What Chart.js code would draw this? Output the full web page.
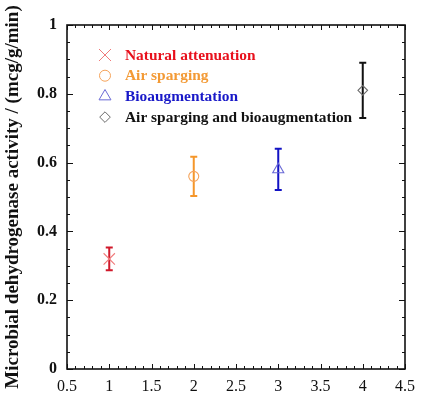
<!DOCTYPE html>
<html>
<head>
<meta charset="utf-8">
<script src="https://cdn.jsdelivr.net/npm/chart.js@4.4.0/dist/chart.umd.min.js"></script>
<style>
  html, body { margin: 0; padding: 0; background: #fff; }
</style>
</head>
<body>
<canvas id="chart" width="423" height="397"></canvas>
<script>
const treatments = ['Natural attenuation', 'Air sparging', 'Bioaugmentation', 'Air sparging and bioaugmentation'];
const treatmentX = [1, 2, 3, 4];
const activity = [0.32, 0.56, 0.58, 0.81];
const activityErr = [0.033, 0.057, 0.06, 0.08];

const markers = ['crossRot', 'circle', 'triangle', 'rectRot'];
const markerSize = [8, 5, 6.4, 4.8];
const markerColors = ['#f07a7a', '#f5a35a', '#6a6ad6', '#6a6a6a'];
const barColors = ['#d0182a', '#f5962a', '#1212c4', '#111111'];
const textColors = ['#e8101c', '#f39a35', '#1818c8', '#111111'];

const SERIF = '"Liberation Serif", "Times New Roman", serif';

// one dataset per treatment so each gets its own marker
const datasets = treatments.map((name, i) => ({
  label: name,
  data: [{ x: treatmentX[i], y: activity[i], err: activityErr[i] }],
  pointStyle: markers[i],
  pointRadius: markerSize[i],
  pointHoverRadius: markerSize[i],
  pointBorderWidth: 1.1,
  borderColor: markerColors[i],
  backgroundColor: 'rgba(0,0,0,0)',
  errColor: barColors[i],
  textColor: textColors[i]
}));

// vertical error bars with caps
const errorBars = {
  id: 'errorBars',
  beforeDatasetsDraw(chart) {
    const { ctx, scales: { x, y } } = chart;
    ctx.save();
    chart.data.datasets.forEach(ds => {
      ds.data.forEach(p => {
        const px = x.getPixelForValue(p.x);
        const top = y.getPixelForValue(p.y + p.err);
        const bot = y.getPixelForValue(p.y - p.err);
        ctx.strokeStyle = ds.errColor;
        ctx.lineWidth = 2;
        ctx.beginPath();
        ctx.moveTo(px, top); ctx.lineTo(px, bot);
        ctx.moveTo(px - 3.5, top); ctx.lineTo(px + 3.5, top);
        ctx.moveTo(px - 3.5, bot); ctx.lineTo(px + 3.5, bot);
        ctx.stroke();
      });
    });
    ctx.restore();
  }
};

// closed frame with inward major/minor ticks on all sides
const frame = {
  id: 'frame',
  afterDraw(chart) {
    const { ctx, chartArea: a, scales: { x, y } } = chart;
    ctx.save();
    ctx.strokeStyle = '#111';
    ctx.lineWidth = 1;
    ctx.beginPath();
    for (let k = 5; k <= 45; k++) {
      const px = Math.round(x.getPixelForValue(k / 10)) + 0.5;
      const len = k % 5 === 0 ? 5 : 3;
      ctx.moveTo(px, a.bottom); ctx.lineTo(px, a.bottom - len);
      ctx.moveTo(px, a.top); ctx.lineTo(px, a.top + len);
    }
    for (let k = 0; k <= 20; k++) {
      const py = Math.round(y.getPixelForValue(k / 20)) + 0.5;
      const len = k % 4 === 0 ? 6 : 3;
      ctx.moveTo(a.left, py); ctx.lineTo(a.left + len, py);
      ctx.moveTo(a.right, py); ctx.lineTo(a.right - len, py);
    }
    ctx.stroke();
    ctx.lineWidth = 1.6;
    ctx.strokeRect(a.left, a.top, a.right - a.left, a.bottom - a.top);
    ctx.restore();
  }
};

// legend inside the plot, coloured text
const innerLegend = {
  id: 'innerLegend',
  afterDraw(chart) {
    const { ctx, chartArea: a } = chart;
    ctx.save();
    chart.data.datasets.forEach((ds, i) => {
      const yy = a.top + 30 + i * 20.7;
      const mx = a.left + 38;
      ctx.strokeStyle = ds.borderColor;
      ctx.fillStyle = 'rgba(0,0,0,0)';
      ctx.lineWidth = 1;
      Chart.helpers.drawPoint(ctx, { pointStyle: ds.pointStyle, radius: ds.pointRadius + 0.5, borderWidth: 1 }, mx, yy);
      ctx.save();
      ctx.translate(a.left + 58, yy);
      ctx.scale(1.1, 1);
      ctx.font = 'bold 14px ' + SERIF;
      ctx.fillStyle = ds.textColor;
      ctx.textBaseline = 'middle';
      ctx.fillText(ds.label, 0, 1);
      ctx.restore();
    });
    ctx.restore();
  }
};

const trimNum = v => String(+v.toFixed(2));

new Chart(document.getElementById('chart'), {
  type: 'scatter',
  data: { datasets },
  options: {
    responsive: false,
    animation: false,
    layout: { padding: { top: 25, right: 10, left: 0, bottom: 0 } },
    plugins: { legend: { display: false }, tooltip: { enabled: false } },
    scales: {
      x: {
        type: 'linear',
        min: 0.5,
        max: 4.5,
        grid: { display: false, drawTicks: false },
        border: { display: false },
        ticks: {
          stepSize: 0.5,
          padding: 8,
          color: '#111',
          font: { family: SERIF, size: 16 },
          callback: trimNum
        },
        afterFit(scale) { scale.height = 28; }
      },
      y: {
        min: 0,
        max: 1,
        grid: { display: false, drawTicks: false },
        border: { display: false },
        ticks: {
          stepSize: 0.2,
          padding: 10,
          color: '#111',
          font: { family: SERIF, size: 16, weight: 'bold' },
          callback: trimNum
        },
        title: {
          display: true,
          text: 'Microbial dehydrogenase activity / (mcg/g/min)',
          color: '#111',
          padding: { top: 2, bottom: 0 },
          font: { family: SERIF, size: 19, weight: 'bold' }
        },
        afterFit(scale) { scale.width = 67; }
      }
    }
  },
  plugins: [errorBars, frame, innerLegend]
});
</script>
</body>
</html>
